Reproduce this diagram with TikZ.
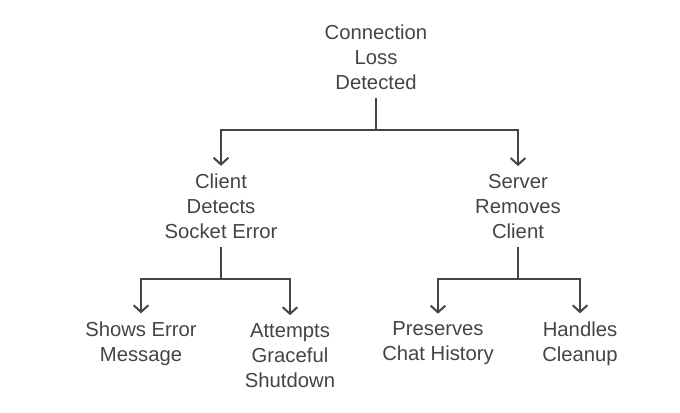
\documentclass[tikz,border=0pt]{standalone}
\usepackage{fontspec}
\setmainfont{Liberation Sans}
\usetikzlibrary{arrows.meta}
\definecolor{ink}{HTML}{444444}
\tikzset{
  txt/.style={align=center, text=ink, font=\fontsize{15.2}{18.75}\selectfont, inner sep=6pt},
  line/.style={draw=ink, line width=1.5pt},
  arrow/.style={line, -{Straight Barb[length=5pt,width=11pt,line width=1.5pt]}},
}
\begin{document}
\begin{tikzpicture}[x=0.75pt,y=-0.75pt]
\useasboundingbox (0,0) rectangle (680,412);
% levels
\node[txt] (root) at (376,57.5) {Connection\\Loss\\Detected};
\node[txt] (client) at (221,206.5) {Client\\Detects\\Socket Error};
\node[txt] (server) at (518,206.5) {Server\\Removes\\Client};
\node[txt] (shows) at (141,343.5) {Shows Error\\Message};
\node[txt] (attempts) at (290,355.5) {Attempts\\Graceful\\Shutdown};
\node[txt] (preserves) at (438,343.5) {Preserves\\Chat History};
\node[txt] (handles) at (580,343.5) {Handles\\Cleanup};

\coordinate (b0) at (376,130);
\coordinate (b1) at (221,279);
\coordinate (b2) at (518,279);

\draw[line] (root.south) -- (b0);
\draw[arrow] (b0) -| (client.north);
\draw[arrow] (b0) -| (server.north);

\draw[line] (client.south) -- (b1);
\draw[arrow] (b1) -| (shows.north);
\draw[arrow] (b1) -| (attempts.north);

\draw[line] (server.south) -- (b2);
\draw[arrow] (b2) -| (preserves.north);
\draw[arrow] (b2) -| (handles.north);
\end{tikzpicture}
\end{document}
